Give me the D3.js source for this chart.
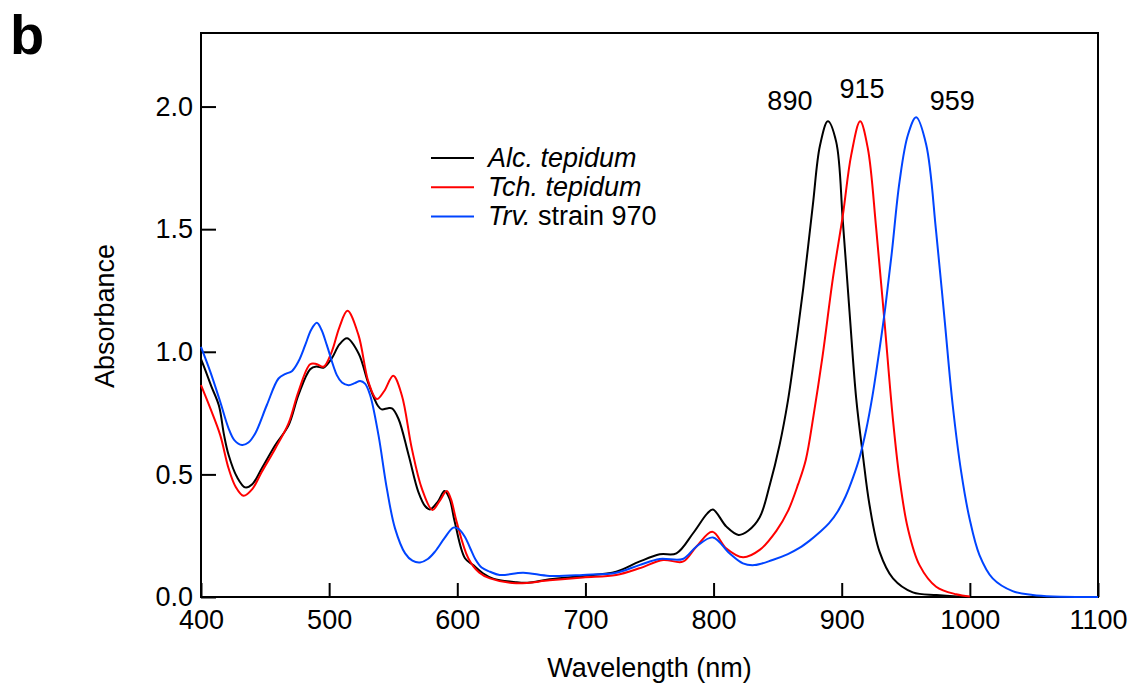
<!DOCTYPE html>
<html>
<head>
<meta charset="utf-8">
<script src="https://cdn.jsdelivr.net/npm/d3@7"></script>
<style>
  body { margin: 0; background: #fff; }
  text { font-family: "Liberation Sans", Arial, Helvetica, sans-serif; fill: #000; }
</style>
</head>
<body>
<div id="my_dataviz"></div>
<script>
// absorption spectra, [wavelength (nm), absorbance]
var alcTepidum = [[400,0.97],[403,0.93],[408,0.86],[414,0.78],[418,0.66],[421.5,0.58],[428,0.49],[434.5,0.447],[440,0.46],
  [447.5,0.525],[458,0.62],[468.3,0.70],[476,0.823],[485.2,0.929],[490,0.94],[495.6,0.935],[502,0.973],[508,1.03],
  [514,1.055],[523,0.993],[530.6,0.871],[538,0.78],[541,0.765],[546,0.77],[549,0.769],[554,0.728],[562,0.579],
  [569.6,0.429],[575,0.37],[578.7,0.357],[585,0.39],[590,0.432],[594,0.40],[598,0.307],[606,0.158],[612.5,0.13],
  [620,0.097],[628,0.075],[646,0.06],[655,0.058],[672,0.072],[698,0.086],[724,0.103],[742,0.144],[758,0.174],
  [771,0.178],[784,0.26],[795,0.34],[799.5,0.357],[810,0.287],[819.5,0.253],[827,0.27],[836,0.325],[844,0.46],
  [851.5,0.62],[858,0.80],[864,1.02],[870,1.26],[877.5,1.6],[883,1.84],[889.2,1.94],[895.7,1.856],
  [900.9,1.53],[906.1,1.163],[911.3,0.81],[916.5,0.579],[921.7,0.375],[929.5,0.185],[940,0.076],[955.5,0.019],
  [974,0.008],[990,0.002],[1000,0]];

var tchTepidum = [[400,0.864],[407.3,0.769],[415,0.66],[421.5,0.525],[427,0.45],[433.2,0.413],[440,0.44],
  [447.5,0.511],[458,0.606],[468.3,0.708],[476,0.837],[485.2,0.949],[490,0.95],[495.6,0.939],[502,1.0],[508,1.1],
  [514.3,1.167],[522.9,1.068],[530.6,0.878],[537.2,0.807],[543,0.84],[550,0.902],[556.7,0.823],[564.5,0.606],
  [572.3,0.443],[580.6,0.355],[586,0.39],[591.8,0.432],[595,0.40],[599.5,0.307],[608.6,0.158],[617,0.10],
  [625.5,0.076],[646,0.056],[672,0.068],[698,0.08],[724,0.09],[742,0.117],[760.6,0.151],[776,0.144],[786.5,0.205],
  [799,0.266],[810,0.198],[823,0.162],[836,0.192],[849,0.27],[858,0.35],[866,0.46],[872,0.56],[878,0.74],
  [885,0.98],[893.1,1.299],[900.9,1.557],[907.4,1.802],[914.4,1.94],[920.4,1.829],[926.9,1.503],[933.4,1.122],
  [939.9,0.728],[945.1,0.484],[951.6,0.28],[960.7,0.13],[973.7,0.042],[989.3,0.011],[1000,0.002]];

var trvStrain970 = [[400,1.02],[407.3,0.918],[415,0.796],[421.5,0.688],[426,0.64],[432,0.62],[437,0.63],
  [442.3,0.667],[451.4,0.783],[460.5,0.891],[466,0.91],[470.9,0.921],[476,0.96],[481.3,1.027],[486,1.09],
  [490.4,1.118],[494,1.09],[498.2,1.027],[506,0.905],[510,0.875],[515.1,0.864],[520,0.872],[524.2,0.881],
  [528,0.87],[532,0.823],[538.5,0.66],[545,0.443],[551.4,0.28],[559.3,0.178],[565,0.148],[570.9,0.141],
  [577,0.155],[582.6,0.185],[590,0.24],[596.9,0.283],[601,0.278],[606,0.245],[610,0.20],[614,0.155],[619,0.12],
  [625.5,0.103],[633,0.09],[651.5,0.099],[672,0.086],[698,0.09],[724,0.099],[742,0.13],[758,0.155],[776,0.155],
  [786.5,0.205],[799.5,0.243],[812.4,0.178],[822.9,0.137],[832,0.13],[846,0.151],[858,0.175],[867,0.20],
  [875,0.23],[883,0.265],[890,0.30],[897,0.35],[903,0.41],[909,0.49],[914,0.57],[919,0.68],[924,0.82],
  [929.5,1.01],[934,1.18],[939,1.40],[945.1,1.693],[951.6,1.883],[958.1,1.956],[965.9,1.845],[973.7,1.489],
  [980.2,1.136],[986.6,0.783],[993.2,0.511],[999.7,0.321],[1007.5,0.171],[1017.8,0.076],[1033.4,0.024],
  [1049,0.008],[1065,0.002],[1100,0]];

var seriesNames = ["Alc. tepidum", "Tch. tepidum", "Trv. strain 970"];
var seriesData = [alcTepidum, tchTepidum, trvStrain970];
var seriesColors = ["#000000", "#ff0000", "#0044ff"];

var xTicks = [400, 500, 600, 700, 800, 900, 1000, 1100];
var yTicks = [0, 0.5, 1.0, 1.5, 2.0];

// peak annotations: wavelength, absorbance at peak
var peakWl = [890, 915, 959];
var peakAbs = [1.94, 1.94, 1.956];

var margin = {top: 33, right: 33, bottom: 92, left: 201},
    width = 1131 - margin.left - margin.right,
    height = 689 - margin.top - margin.bottom;

var svg = d3.select("#my_dataviz")
  .append("svg")
    .attr("width", 1131)
    .attr("height", 689);

var g = svg.append("g")
    .attr("transform", "translate(" + margin.left + "," + margin.top + ")");

var x = d3.scaleLinear().domain([400, 1100]).range([0, width]);
var y = d3.scaleLinear().domain([0, 2.3]).range([height, 0]);

// axes with inward ticks
var xAxis = g.append("g")
    .attr("transform", "translate(0," + height + ")")
    .call(d3.axisBottom(x).tickValues(xTicks).tickFormat(d3.format("d"))
      .tickSizeInner(-14).tickSizeOuter(0).tickPadding(13));

var yAxis = g.append("g")
    .call(d3.axisLeft(y).tickValues(yTicks).tickFormat(d3.format(".1f"))
      .tickSizeInner(-15).tickSizeOuter(0).tickPadding(8));

[xAxis, yAxis].forEach(function(a) {
  a.select(".domain").remove();
  a.selectAll("line").attr("stroke", "#000").attr("stroke-width", 2);
  a.selectAll("text").style("font-size", "27px").attr("fill", "#000")
    .style("font-family", "'Liberation Sans', Arial, Helvetica, sans-serif");
});

// frame
g.append("rect")
  .attr("x", 0).attr("y", 0)
  .attr("width", width).attr("height", height)
  .attr("fill", "none").attr("stroke", "#000").attr("stroke-width", 2);

// spectra
var line = d3.line()
  .x(function(d) { return x(d[0]); })
  .y(function(d) { return y(d[1]); })
  .curve(d3.curveCatmullRom.alpha(0.5));

g.selectAll(".spectrum")
  .data(seriesData)
  .enter()
  .append("path")
    .attr("class", "spectrum")
    .attr("d", line)
    .attr("fill", "none")
    .attr("stroke", function(d, i) { return seriesColors[i]; })
    .attr("stroke-width", 2);

// peak labels
var peakOffsets = [[-39, -11], [1, -23], [35, -7]];
g.selectAll(".peak")
  .data(peakWl)
  .enter()
  .append("text")
    .attr("class", "peak")
    .attr("x", function(d, i) { return x(d) + peakOffsets[i][0]; })
    .attr("y", function(d, i) { return y(peakAbs[i]) + peakOffsets[i][1]; })
    .attr("text-anchor", "middle")
    .style("font-size", "27px")
    .text(function(d) { return d; });

// legend
var legend = g.selectAll(".legend")
  .data(seriesNames)
  .enter()
  .append("g")
    .attr("class", "legend")
    .attr("transform", function(d, i) { return "translate(230," + (125 + i * 29.3) + ")"; });

legend.append("line")
  .attr("x1", 0).attr("x2", 43)
  .attr("stroke", function(d, i) { return seriesColors[i]; })
  .attr("stroke-width", 2);

var legendText = legend.append("text")
  .attr("x", 57)
  .attr("dy", "0.32em")
  .style("font-size", "27px");

legendText.append("tspan")
  .style("font-style", "italic")
  .text(function(d) { return d.split(" ")[0] + (d.indexOf("strain") >= 0 ? "" : " " + d.split(" ")[1]); });
legendText.filter(function(d) { return d.indexOf("strain") >= 0; })
  .append("tspan")
  .text(function(d) { return " " + d.split(" ").slice(1).join(" "); });

// axis titles
svg.append("text")
  .attr("x", margin.left + width / 2)
  .attr("y", 677)
  .attr("text-anchor", "middle")
  .style("font-size", "27px")
  .text("Wavelength (nm)");

svg.append("text")
  .attr("transform", "translate(114," + (margin.top + height / 2 + 1) + ") rotate(-90)")
  .attr("text-anchor", "middle")
  .style("font-size", "27px")
  .text("Absorbance");

// panel letter
svg.append("text")
  .attr("x", 10)
  .attr("y", 54)
  .style("font-size", "56px")
  .style("font-weight", "bold")
  .text("b");
</script>
</body>
</html>
